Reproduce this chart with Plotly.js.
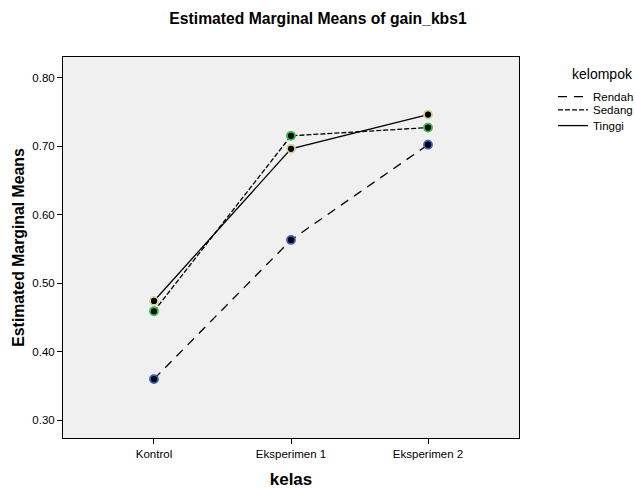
<!DOCTYPE html>
<html>
<head>
<meta charset="utf-8">
<script src="https://cdn.plot.ly/plotly-3.0.1.min.js"></script>
<style>html,body{margin:0;padding:0;background:#fff;}#chart{width:636px;height:489px;}</style>
</head>
<body>
<div id="chart"></div>
<script>
const categories = ["Kontrol", "Eksperimen 1", "Eksperimen 2"];
const rendah = [0.360, 0.563, 0.702];
const sedang = [0.459, 0.715, 0.727];
const tinggi = [0.474, 0.696, 0.746];
const yTicks = [0.30, 0.40, 0.50, 0.60, 0.70, 0.80];
const yTickLabels = ["0.30", "0.40", "0.50", "0.60", "0.70", "0.80"];

const font = "Liberation Sans, Arial, sans-serif";
function lineTrace(name, y, dash, legendId) {
  return {x: categories, y: y, name: name, type: "scatter", mode: "lines", legend: legendId,
    line: {color: "#000", width: 1.3, dash: dash}, hoverinfo: "skip"};
}
function markerTrace(y, edge) {
  return {x: categories, y: y, type: "scatter", mode: "markers", showlegend: false,
    marker: {color: "#000", size: 8, line: {color: edge, width: 1.8}}, hoverinfo: "skip"};
}
const data = [
  lineTrace("Rendah", rendah, "9px,7px", "legend"),
  lineTrace("Sedang", sedang, "5px,2px", "legend2"),
  lineTrace("Tinggi", tinggi, "solid", "legend3"),
  markerTrace(rendah, "#3b5fbf"),
  markerTrace(sedang, "#2ebd4a"),
  markerTrace(tinggi, "#d9cf9a")
];
function legendAt(y) {
  return {x: 1.0746, xanchor: "left", y: y, yanchor: "middle", bgcolor: "rgba(0,0,0,0)",
    font: {size: 11.5, family: font}, itemwidth: 30};
}
const layout = {
  width: 636, height: 489,
  margin: {l: 63, r: 117, t: 57, b: 51, autoexpand: false},
  paper_bgcolor: "#fff", plot_bgcolor: "#f0f0f0",
  font: {family: font, size: 11.5, color: "#000"},
  title: {text: "<b>Estimated Marginal Means of gain_kbs1</b>", font: {size: 15.7, family: font},
    x: 0.5, xref: "container", xanchor: "center", y: 0.963, yanchor: "middle", automargin: false},
  xaxis: {type: "category", range: [-0.664, 2.664], showgrid: false, zeroline: false,
    showline: true, linecolor: "#000", linewidth: 1, mirror: true,
    ticks: "outside", ticklen: 5, tickcolor: "#000",
    tickfont: {size: 11.5, family: font},
    title: {text: "<b>kelas</b>", font: {size: 17, family: font}, standoff: 14}},
  yaxis: {range: [0.274, 0.830], showgrid: false, zeroline: false,
    showline: true, linecolor: "#000", linewidth: 1, mirror: true,
    ticks: "outside", ticklen: 5, tickcolor: "#000",
    tickvals: yTicks, ticktext: yTickLabels,
    tickfont: {size: 11.5, family: font},
    title: {text: "<b>Estimated Marginal Means</b>", font: {size: 15.8, family: font}, standoff: 3}},
  legend: legendAt(0.896),
  legend2: legendAt(0.861),
  legend3: legendAt(0.820),
  annotations: [{text: "kelompok", xref: "paper", yref: "paper", x: 1.112, y: 0.955,
    xanchor: "left", yanchor: "middle", showarrow: false, font: {size: 14, family: font}}],
  showlegend: true
};
Plotly.newPlot("chart", data, layout, {staticPlot: true, displayModeBar: false});
</script>
</body>
</html>
